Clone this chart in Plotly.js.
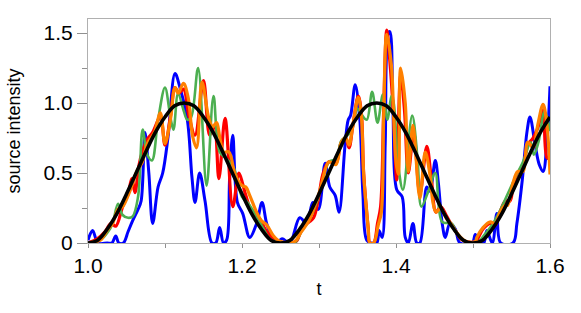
<!DOCTYPE html>
<html>
<head>
<meta charset="utf-8">
<script src="https://cdn.plot.ly/plotly-3.0.1.min.js"></script>
<style>html,body{margin:0;padding:0;background:#fff}#chart{width:581px;height:313px}</style>
</head>
<body>
<div id="chart"></div>
<script>
var blueT = [1.000,1.006,1.013,1.025,1.031,1.036,1.040,1.046,1.052,1.058,1.065,1.069,1.074,1.079,1.084,1.091,1.097,1.104,1.113,1.119,1.129,1.135,1.139,1.145,1.152,1.161,1.166,1.171,1.176,1.180,1.184,1.188,1.194,1.201,1.210,1.219,1.226,1.232,1.239,1.245,1.252,1.262,1.275,1.284,1.292,1.299,1.308,1.314,1.321,1.326,1.334,1.338,1.341,1.347,1.353,1.357,1.362,1.368,1.375,1.378,1.382,1.386,1.390,1.392,1.396,1.401,1.408,1.412,1.416,1.422,1.427,1.431,1.440,1.444,1.451,1.455,1.460,1.464,1.470,1.477,1.483,1.499,1.503,1.509,1.514,1.518,1.525,1.531,1.536,1.552,1.557,1.564,1.570,1.574,1.581,1.586,1.591,1.596,1.600];
var blueY = [0.02,0.09,0.0,0.0,0.0,0.05,0.0,0.0,0.08,0.16,0.24,0.30,0.79,0.50,0.14,0.40,0.50,0.76,1.21,1.12,0.88,0.47,0.29,0.50,0.30,0.0,0.0,0.11,0.0,0.02,0.47,0.77,0.29,0.21,0.04,0.14,0.29,0.14,0.04,0.0,0.03,0.0,0.18,0.14,0.29,0.24,0.57,0.40,0.34,0.22,0.71,0.88,0.91,1.13,0.88,0.35,0.02,0.0,0.0,0.09,0.04,0.71,1.50,1.51,0.95,0.38,0.33,0.04,0.0,0.14,0.0,0.0,0.40,0.37,0.59,0.43,0.14,0.04,0.14,0.10,0.0,0.0,0.06,0.0,0.0,0.09,0.0,0.21,0.0,0.0,0.14,0.45,0.79,0.90,0.69,0.56,0.51,0.72,1.12];

var redT = [1.000,1.012,1.022,1.030,1.036,1.045,1.052,1.057,1.061,1.066,1.071,1.077,1.084,1.094,1.100,1.107,1.113,1.118,1.124,1.131,1.139,1.150,1.158,1.164,1.170,1.178,1.188,1.196,1.201,1.205,1.213,1.222,1.231,1.239,1.248,1.270,1.278,1.287,1.293,1.300,1.305,1.313,1.322,1.329,1.335,1.339,1.344,1.351,1.355,1.358,1.364,1.366,1.371,1.376,1.380,1.384,1.388,1.392,1.397,1.401,1.406,1.411,1.416,1.423,1.431,1.440,1.446,1.452,1.458,1.465,1.471,1.478,1.484,1.491,1.503,1.513,1.522,1.529,1.535,1.542,1.548,1.552,1.558,1.565,1.571,1.578,1.584,1.591,1.596,1.600];
var redY = [0.0,0.03,0.08,0.14,0.12,0.26,0.35,0.46,0.36,0.55,0.66,0.74,0.79,0.90,0.70,0.90,1.11,1.07,1.10,0.91,0.77,1.16,0.77,0.84,0.46,0.89,0.26,0.50,0.42,0.34,0.22,0.18,0.09,0.04,0.01,0.01,0.11,0.15,0.18,0.34,0.49,0.58,0.57,0.72,0.74,0.68,0.84,1.05,0.93,0.50,0.10,0.0,0.0,0.14,0.26,0.95,1.52,1.30,0.90,0.45,1.20,0.95,0.50,0.79,0.35,0.69,0.45,0.22,0.26,0.20,0.14,0.08,0.03,0.01,0.01,0.10,0.14,0.13,0.22,0.30,0.30,0.40,0.50,0.55,0.70,0.75,0.82,0.95,0.61,0.60];

var greenT = [1.000,1.016,1.026,1.032,1.039,1.045,1.052,1.058,1.065,1.071,1.077,1.083,1.091,1.100,1.107,1.111,1.117,1.124,1.129,1.134,1.143,1.154,1.163,1.171,1.180,1.189,1.200,1.207,1.219,1.227,1.236,1.250,1.268,1.277,1.287,1.297,1.305,1.313,1.322,1.329,1.335,1.342,1.350,1.355,1.362,1.369,1.376,1.383,1.389,1.394,1.397,1.403,1.409,1.421,1.428,1.433,1.442,1.451,1.460,1.472,1.480,1.490,1.505,1.515,1.525,1.535,1.545,1.555,1.565,1.575,1.579,1.585,1.593,1.600];
var greenY = [0.0,0.02,0.08,0.14,0.28,0.20,0.18,0.19,0.33,0.81,0.63,0.59,0.88,1.11,0.90,0.81,1.07,0.95,0.88,0.90,1.25,0.41,1.05,0.65,0.60,0.54,0.33,0.29,0.19,0.11,0.03,0.0,0.0,0.08,0.16,0.29,0.45,0.58,0.60,0.73,0.76,0.80,0.96,0.92,0.88,1.08,0.86,1.06,0.88,1.05,1.00,0.55,0.38,0.91,0.60,0.26,0.37,0.50,0.15,0.14,0.06,0.01,0.0,0.06,0.13,0.23,0.35,0.47,0.58,0.72,0.63,0.72,0.94,0.80];

var orangeT = [1.000,1.010,1.016,1.026,1.032,1.039,1.045,1.055,1.064,1.070,1.077,1.084,1.087,1.094,1.100,1.107,1.113,1.117,1.124,1.130,1.136,1.141,1.148,1.157,1.162,1.167,1.171,1.176,1.183,1.191,1.200,1.205,1.210,1.219,1.225,1.232,1.241,1.250,1.268,1.277,1.287,1.296,1.303,1.305,1.313,1.322,1.329,1.335,1.339,1.344,1.351,1.355,1.358,1.364,1.366,1.371,1.377,1.381,1.384,1.388,1.394,1.397,1.400,1.403,1.406,1.412,1.416,1.422,1.431,1.438,1.444,1.448,1.452,1.458,1.465,1.471,1.478,1.484,1.491,1.503,1.505,1.513,1.522,1.529,1.535,1.542,1.545,1.552,1.558,1.565,1.571,1.578,1.584,1.591,1.596,1.600];
var orangeY = [0.0,0.01,0.02,0.10,0.14,0.24,0.26,0.38,0.52,0.57,0.71,0.77,0.80,0.93,0.71,0.88,1.11,1.07,1.14,1.04,0.76,0.68,1.15,0.89,0.83,0.86,0.76,0.65,0.65,0.49,0.41,0.40,0.34,0.22,0.16,0.13,0.05,0.01,0.01,0.08,0.16,0.29,0.41,0.46,0.58,0.56,0.72,0.75,0.70,0.84,1.04,0.91,0.49,0.10,0.0,0.0,0.13,0.22,0.91,1.49,1.27,0.91,0.58,0.49,1.25,1.00,0.51,0.84,0.32,0.65,0.49,0.29,0.22,0.25,0.18,0.14,0.08,0.04,0.01,0.01,0.04,0.11,0.15,0.14,0.22,0.27,0.27,0.43,0.51,0.51,0.72,0.68,0.84,0.99,0.84,0.49];

var blackT = [1.0,1.0125,1.025,1.0375,1.05,1.0625,1.075,1.0875,1.1,1.1125,1.125,1.1375,1.15,1.1625,1.175,1.1875,1.2,1.2125,1.225,1.2375,1.25,1.2625,1.275,1.2875,1.3,1.3125,1.325,1.3375,1.35,1.3625,1.375,1.3875,1.4,1.4125,1.425,1.4375,1.45,1.4625,1.475,1.4875,1.5,1.5125,1.525,1.5375,1.55,1.5625,1.575,1.5875,1.6];
var blackY = [0.0,0.02,0.10,0.21,0.35,0.50,0.65,0.79,0.90,0.98,1.0,0.98,0.90,0.79,0.65,0.50,0.35,0.21,0.10,0.02,0.0,0.02,0.10,0.21,0.35,0.50,0.65,0.79,0.90,0.98,1.0,0.98,0.90,0.79,0.65,0.50,0.35,0.21,0.10,0.02,0.0,0.02,0.10,0.21,0.35,0.50,0.65,0.79,0.90];

var xTickVals = [1.0,1.2,1.4,1.6];
var xTickText = ['1.0','1.2','1.4','1.6'];
var yTickVals = [0,0.5,1.0,1.5];
var yTickText = ['0','0.5','1.0','1.5'];

function tr(x, y, color, w) {
  return {x: x, y: y, type: 'scatter', mode: 'lines',
    line: {color: color, width: w, shape: 'spline', smoothing: 1},
    hoverinfo: 'skip', showlegend: false, cliponaxis: true};
}

var data = [
  tr(blueT, blueY, '#0000ff', 3),
  tr(redT, redY, '#ff0000', 3.2),
  tr(greenT, greenY, '#4caf50', 2.6),
  tr(orangeT, orangeY, '#ff8000', 3.2),
  tr(blackT, blackY, '#000000', 3.6)
];

var font = 'Liberation Sans, Arial, Helvetica, sans-serif';
var layout = {
  width: 581, height: 313,
  margin: {l: 88, r: 31, t: 19, b: 70, pad: 0},
  paper_bgcolor: '#ffffff', plot_bgcolor: '#ffffff',
  font: {family: font, color: '#000000'},
  xaxis: {
    range: [1.0, 1.6], showgrid: false, zeroline: false,
    showline: true, mirror: true, linecolor: '#b0b0b0', linewidth: 1,
    ticks: 'outside', ticklen: 4, tickcolor: '#909090', tickwidth: 1,
    tickmode: 'array', tickvals: xTickVals, ticktext: xTickText,
    tickfont: {size: 21, family: font, color: '#000'},
    minor: {dtick: 0.1, ticks: 'outside', ticklen: 4, tickcolor: '#909090'},
    title: {text: 't', font: {size: 18, family: font, color: '#000'}, standoff: 6}
  },
  yaxis: {
    range: [0, 1.6], showgrid: false, zeroline: false,
    showline: true, mirror: true, linecolor: '#b0b0b0', linewidth: 1,
    ticks: 'outside', ticklen: 10, tickcolor: '#909090', tickwidth: 1,
    tickmode: 'array', tickvals: yTickVals, ticktext: yTickText,
    tickfont: {size: 21, family: font, color: '#000'},
    minor: {dtick: 0.25, tick0: 0, ticks: 'outside', ticklen: 5, tickcolor: '#909090'},
    title: {text: 'source intensity', font: {size: 18, family: font, color: '#000'}, standoff: 18}
  }
};

Plotly.newPlot('chart', data, layout, {staticPlot: true, displayModeBar: false});
</script>
</body>
</html>
